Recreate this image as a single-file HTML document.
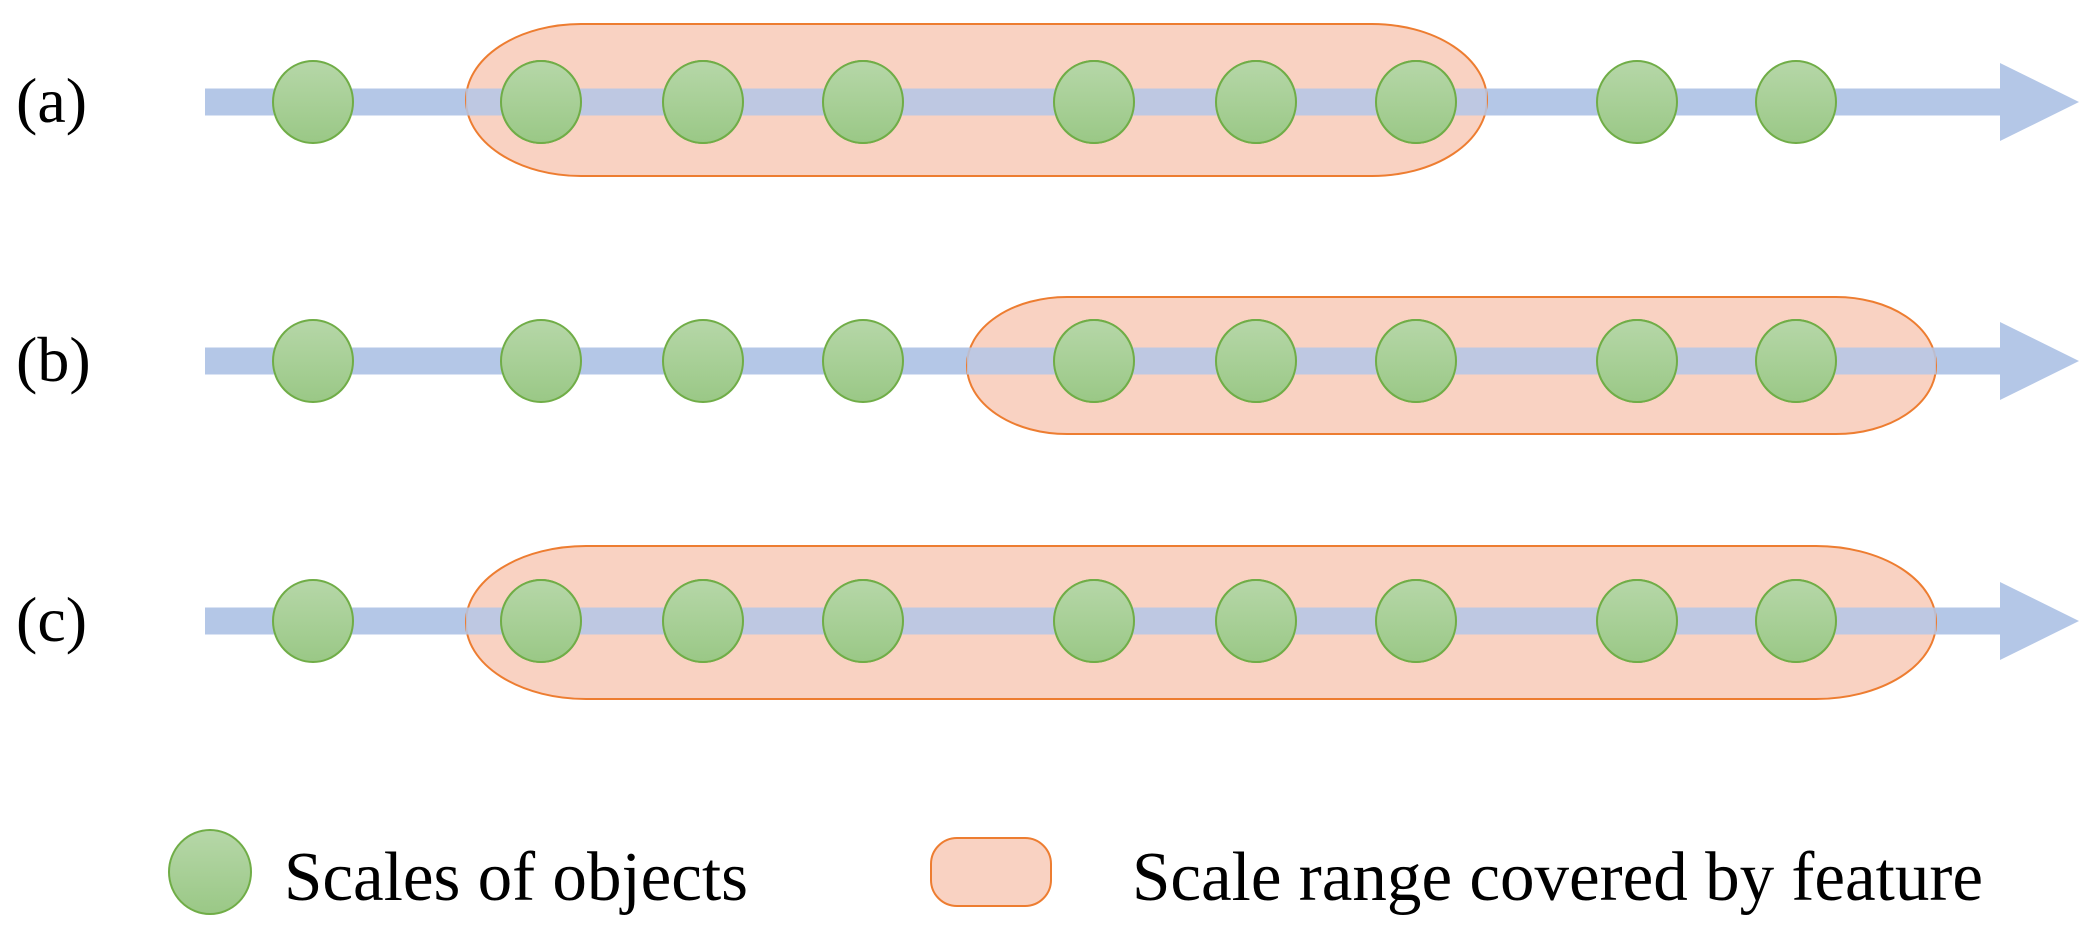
<!DOCTYPE html>
<html><head><style>
html,body{margin:0;padding:0;background:#fff;}
svg{display:block;}
text{font-family:"Liberation Serif",serif;fill:#000;}
</style></head><body>
<svg width="2095" height="944" viewBox="0 0 2095 944" xmlns="http://www.w3.org/2000/svg">
<defs>
<linearGradient id="g" x1="0" y1="0" x2="0" y2="1">
<stop offset="0" stop-color="#b6d7a8"/><stop offset="1" stop-color="#9ac886"/>
</linearGradient>
<g id="arrow">
<rect x="205" y="-13.5" width="1797" height="27" fill="#b4c7e7"/>
<polygon points="2000,-39 2079,0 2000,39" fill="#b4c7e7"/>
</g>
<g id="dots" fill="url(#g)" stroke="#70ad47" stroke-width="2">
<ellipse cx="313" cy="0" rx="40" ry="41"/>
<ellipse cx="541" cy="0" rx="40" ry="41"/>
<ellipse cx="703" cy="0" rx="40" ry="41"/>
<ellipse cx="863" cy="0" rx="40" ry="41"/>
<ellipse cx="1094" cy="0" rx="40" ry="41"/>
<ellipse cx="1256" cy="0" rx="40" ry="41"/>
<ellipse cx="1416" cy="0" rx="40" ry="41"/>
<ellipse cx="1637" cy="0" rx="40" ry="41"/>
<ellipse cx="1796" cy="0" rx="40" ry="41"/>
</g>
</defs>
<!-- row a -->
<g transform="translate(0,102)">
<use href="#arrow"/>
<rect x="466" y="-78" width="1021" height="152" rx="115" ry="76" fill="#f9d2c2" stroke="#ed7d31" stroke-width="2"/>
<rect x="466" y="-13.5" width="1021" height="27" fill="#b4c7e7" opacity="0"/>
<use href="#dots"/>
</g>
<!-- row b -->
<g transform="translate(0,361)">
<use href="#arrow"/>
<rect x="967" y="-64" width="969" height="137" rx="100" ry="68" fill="#f9d2c2" stroke="#ed7d31" stroke-width="2"/>
<use href="#dots"/>
</g>
<!-- row c -->
<g transform="translate(0,621)">
<use href="#arrow"/>
<rect x="466" y="-75" width="1470" height="153" rx="120" ry="76" fill="#f9d2c2" stroke="#ed7d31" stroke-width="2"/>
<use href="#dots"/>
</g>
</svg>
<style>
.row-cover{}
</style>
<div style="position:absolute;left:0;top:0;width:2095px;height:944px;pointer-events:none;">
<svg width="2095" height="944" xmlns="http://www.w3.org/2000/svg" style="position:absolute;left:0;top:0">
<!-- bars drawn over pills with transparency effect -->
<g fill="#b4c7e7">
<rect x="466" y="88.5" width="1021" height="27" opacity="0.85"/>
<rect x="967" y="347.5" width="969" height="27" opacity="0.85"/>
<rect x="466" y="607.5" width="1470" height="27" opacity="0.85"/>
</g>
<g fill="url(#g2)" stroke="#70ad47" stroke-width="2">
<defs><linearGradient id="g2" x1="0" y1="0" x2="0" y2="1"><stop offset="0" stop-color="#b6d7a8"/><stop offset="1" stop-color="#9ac886"/></linearGradient></defs>
</g>
</svg>
</div>
<div style="position:absolute;left:0;top:0;">
<svg width="2095" height="944" xmlns="http://www.w3.org/2000/svg">
<defs><linearGradient id="g3" x1="0" y1="0" x2="0" y2="1"><stop offset="0" stop-color="#b6d7a8"/><stop offset="1" stop-color="#9ac886"/></linearGradient></defs>
<g fill="url(#g3)" stroke="#70ad47" stroke-width="2">
<ellipse cx="541" cy="102" rx="40" ry="41"/><ellipse cx="703" cy="102" rx="40" ry="41"/><ellipse cx="863" cy="102" rx="40" ry="41"/><ellipse cx="1094" cy="102" rx="40" ry="41"/><ellipse cx="1256" cy="102" rx="40" ry="41"/><ellipse cx="1416" cy="102" rx="40" ry="41"/>
<ellipse cx="1094" cy="361" rx="40" ry="41"/><ellipse cx="1256" cy="361" rx="40" ry="41"/><ellipse cx="1416" cy="361" rx="40" ry="41"/><ellipse cx="1637" cy="361" rx="40" ry="41"/><ellipse cx="1796" cy="361" rx="40" ry="41"/>
<ellipse cx="541" cy="621" rx="40" ry="41"/><ellipse cx="703" cy="621" rx="40" ry="41"/><ellipse cx="863" cy="621" rx="40" ry="41"/><ellipse cx="1094" cy="621" rx="40" ry="41"/><ellipse cx="1256" cy="621" rx="40" ry="41"/><ellipse cx="1416" cy="621" rx="40" ry="41"/><ellipse cx="1637" cy="621" rx="40" ry="41"/><ellipse cx="1796" cy="621" rx="40" ry="41"/>
<ellipse cx="210" cy="872" rx="41" ry="42"/>
</g>
<rect x="931" y="838" width="120" height="68" rx="26" ry="26" fill="#f9d2c2" stroke="#ed7d31" stroke-width="2"/>
<g font-family="Liberation Serif, serif" font-size="64">
<text x="16" y="122">(a)</text>
<text x="16" y="381">(b)</text>
<text x="16" y="641">(c)</text>
</g>
<g font-family="Liberation Serif, serif" font-size="70">
<text x="284" y="900" textLength="464" lengthAdjust="spacingAndGlyphs">Scales of objects</text>
<text x="1132" y="900" textLength="851" lengthAdjust="spacingAndGlyphs">Scale range covered by feature</text>
</g>
</svg>
</div>
</body></html>
